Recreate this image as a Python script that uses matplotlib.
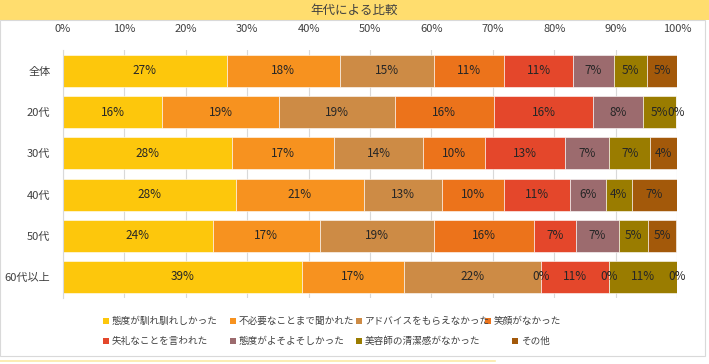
import matplotlib.pyplot as plt
import matplotlib.patches as patches
import numpy as np

plt.rcParams['font.family'] = ['Noto Sans CJK JP', 'DejaVu Sans']

title = "年代による比較"
groups = ["全体", "20代", "30代", "40代", "50代", "60代以上"]
reasons = ["態度が馴れ馴れしかった", "不必要なことまで聞かれた", "アドバイスをもらえなかった",
           "笑顔がなかった", "失礼なことを言われた", "態度がよそよそしかった",
           "美容師の清潔感がなかった", "その他"]
colors = ["#FDC70C", "#F7921F", "#CD8B45", "#EC731B", "#E4472B", "#9C6B6E", "#9A7C00", "#A3590A"]

# share per group (%), one list per reason
values = [
    [26.7, 16.2, 27.6, 28.2, 24.4, 38.9],
    [18.4, 18.9, 16.6, 20.8, 17.4, 16.7],
    [15.4, 18.9, 14.4, 12.8, 18.6, 22.2],
    [11.4, 16.2, 10.1, 10.1, 16.3, 0.0],
    [11.2, 16.2, 13.0, 10.6, 6.8, 11.1],
    [6.6, 8.1, 7.3, 5.9, 7.1, 0.0],
    [5.4, 5.4, 6.6, 4.2, 4.7, 11.1],
    [5.0, 0.0, 4.4, 7.4, 4.6, 0.0],
]
ticks = [0, 10, 20, 30, 40, 50, 60, 70, 80, 90, 100]

fig = plt.figure(figsize=(7.09, 3.64), dpi=100)

# title band
fig.patches.append(patches.Rectangle((0, 1 - 20 / 364), 1, 20 / 364, transform=fig.transFigure,
                                     facecolor="#FFDD6E", edgecolor="none", zorder=0))
fig.text(0.5, 1 - 10 / 364, title, ha="center", va="center", fontsize=9, color="#404040")
# chart frame
fig.patches.append(patches.Rectangle((0, 8 / 364), 705 / 709, 336 / 364, transform=fig.transFigure,
                                     facecolor="none", edgecolor="#D9D9D9", linewidth=0.8))
fig.lines.append(plt.Line2D([0, 495 / 709], [3 / 364, 3 / 364], transform=fig.transFigure,
                            color="#FBE9A6", linewidth=1.2))

ax = fig.add_axes([63 / 709, 66.4 / 364, 614 / 709, 247.2 / 364])
y = np.arange(len(groups))
left = np.zeros(len(groups))
for name, vals, c in zip(reasons, values, colors):
    vals = np.array(vals)
    ax.barh(y, vals, left=left, height=0.78, color=c, edgecolor="#FFFFFF", linewidth=0.4,
            label=name, zorder=2)
    for yi, l, v in zip(y, left, vals):
        ax.text(l + v / 2, yi, "%.0f%%" % v, ha="center", va="center", fontsize=8.5,
                color="#262626", zorder=3)
    left = left + vals

ax.set_xlim(0, 100)
ax.set_ylim(len(groups) - 0.5, -0.5)
ax.set_xticks(ticks)
ax.set_xticklabels(["%d%%" % t for t in ticks])
ax.xaxis.tick_top()
ax.tick_params(axis="x", length=0, pad=12, labelsize=8, labelcolor="#404040")
ax.set_yticks(y)
ax.set_yticklabels(groups)
ax.tick_params(axis="y", length=0, pad=9, labelsize=8, labelcolor="#404040")
ax.grid(axis="x", color="#D9D9D9", linewidth=0.8, zorder=0)
for s in ["top", "right", "bottom"]:
    ax.spines[s].set_visible(False)
ax.spines["left"].set_color("#D9D9D9")

# legend, laid out like the original
leg_x = [103, 230, 356, 485, 103, 230, 356, 512]
leg_y = [321, 321, 321, 321, 341, 341, 341, 341]
for name, c, lx, ly in zip(reasons, colors, leg_x, leg_y):
    fig.patches.append(patches.Rectangle((lx / 709, (364 - ly - 3) / 364), 6 / 709, 6 / 364,
                                         transform=fig.transFigure, facecolor=c, edgecolor="none"))
    fig.text((lx + 9) / 709, (364 - ly) / 364, name, ha="left", va="center", fontsize=6.9,
             color="#404040")

fig.savefig("out.png", dpi=100)
